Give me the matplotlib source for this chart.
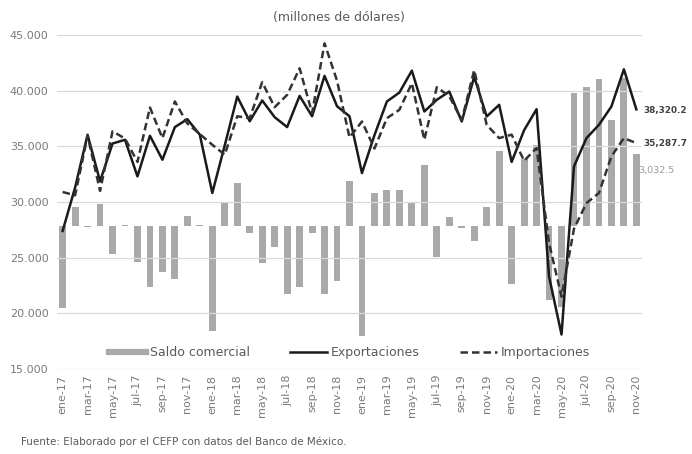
import matplotlib.pyplot as plt
from matplotlib.lines import Line2D
from matplotlib.ticker import FuncFormatter

plt.rcParams['font.family'] = ['DejaVu Sans']

# months ene-17 .. nov-20
meses = ["ene", "feb", "mar", "abr", "may", "jun", "jul", "ago", "sep", "oct", "nov", "dic"]
labels = [f"{m}-{y}" for y in ["17", "18", "19", "20"] for m in meses][:47]

# millones de dolares
exportaciones = [27400, 31300, 36040, 31860, 35250, 35590, 32300, 35950, 33800, 36730, 37440, 36040,
                 30810, 35100, 39470, 37250, 39120, 37620, 36730, 39530, 37700, 41330, 38600, 37700,
                 32600, 36000, 39030, 39830, 41800, 38130, 39180, 39920, 37230, 41250, 37680, 38730,
                 33600, 36450, 38340, 23300, 18100, 33200, 35740, 36930, 38580, 41920, 38320.2]
importaciones = [30900, 30600, 35950, 31000, 36350, 35700, 33600, 38490, 35740, 39030, 37050, 36100,
                 35140, 34250, 37700, 37530, 40760, 38520, 39620, 42010, 38000, 44250, 40900, 35800,
                 37230, 34800, 37530, 38280, 40670, 35590, 40310, 39500, 37350, 41850, 36930, 35740,
                 36050, 33700, 34850, 26300, 21500, 27600, 29900, 30810, 34100, 35740, 35287.7]
saldo = [-3430, 770, -40, 900, -1190, 30, -1515, -2570, -1920, -2240, 420, 50,
         -4420, 955, 1780, -280, -1540, -870, -2850, -2570, -280, -2860, -2330, 1890,
         -4600, 1375, 1490, 1500, 980, 2550, -1290, 380, -85, -645, 770, 3140,
         -2455, 2800, 3370, -3090, -3400, 5570, 5825, 6150, 4420, 6200, 3032.5]

x = list(range(len(labels)))
gris_txt = "#7a7a7a"

fig = plt.figure(figsize=(6.92, 4.54), dpi=100)
ax = fig.add_axes([0.0824, 0.1872, 0.8453, 0.7357])
ax2 = ax.twinx()

# bars on hidden secondary axis
ax2.bar(x, saldo, width=0.55, color="#a9a9a9", zorder=1)
ax2.set_ylim(-6000, 8000)
ax2.set_yticks([])
for s in ax2.spines.values():
    s.set_visible(False)

ax.set_zorder(ax2.get_zorder() + 1)
ax.patch.set_visible(False)

ax.plot(x, exportaciones, color="#1a1a1a", lw=1.8, zorder=3)
ln, = ax.plot(x, importaciones, color="#333333", lw=1.8, zorder=3)
ln.set_dashes([3, 1.6])

ax.set_ylim(15000, 45000)
ax.set_yticks(range(15000, 45001, 5000))
ax.yaxis.set_major_formatter(FuncFormatter(lambda v, p: f"{int(v):,}".replace(",", ".")))
ax.set_xlim(-0.45, len(x) - 0.55)
ax.set_xticks(x[::2])
ax.set_xticklabels(labels[::2], rotation=90)
ax.tick_params(axis="both", length=0, labelsize=8, labelcolor=gris_txt)
ax.tick_params(axis="y", pad=6)
ax.tick_params(axis="x", pad=4)
ax.grid(axis="y", color="#d9d9d9", lw=0.9)
for s in ax.spines.values():
    s.set_visible(False)

# end labels
ax.annotate(f"{exportaciones[-1]:,.1f}", xy=(x[-1], exportaciones[-1]), xytext=(5, -1),
            textcoords="offset points", va="center", ha="left", fontsize=6.4,
            fontweight="bold", color="#404040", annotation_clip=False)
ax.annotate(f"{importaciones[-1]:,.1f}", xy=(x[-1], importaciones[-1]), xytext=(5, 0),
            textcoords="offset points", va="center", ha="left", fontsize=6.4,
            fontweight="bold", color="#404040", annotation_clip=False)
ax2.annotate(f"{saldo[-1]:,.1f}", xy=(x[-1], saldo[-1]), xytext=(1, -12),
             textcoords="offset points", va="center", ha="left", fontsize=6.8,
             color="#9a9a9a", annotation_clip=False)

handles = [Line2D([], [], color="#a9a9a9", lw=4.5),
           Line2D([], [], color="#1a1a1a", lw=1.8),
           Line2D([], [], color="#333333", lw=1.8, dashes=[3, 1.6])]
leg = ax.legend(handles, ["Saldo comercial", "Exportaciones", "Importaciones"],
                loc="center", bbox_to_anchor=(0.5, 0.048), ncol=3, frameon=False,
                fontsize=9, handlelength=3.0, handletextpad=0.3, columnspacing=3.2)
for t in leg.get_texts():
    t.set_color("#5a5a5a")

fig.text(0.49, 0.962, "(millones de dólares)", ha="center", va="center", fontsize=9, color="#5a5a5a")
fig.text(0.03, 0.015, "Fuente: Elaborado por el CEFP con datos del Banco de México.",
         ha="left", va="bottom", fontsize=7.5, color="#5a5a5a")

fig.savefig("out.png", dpi=100)
